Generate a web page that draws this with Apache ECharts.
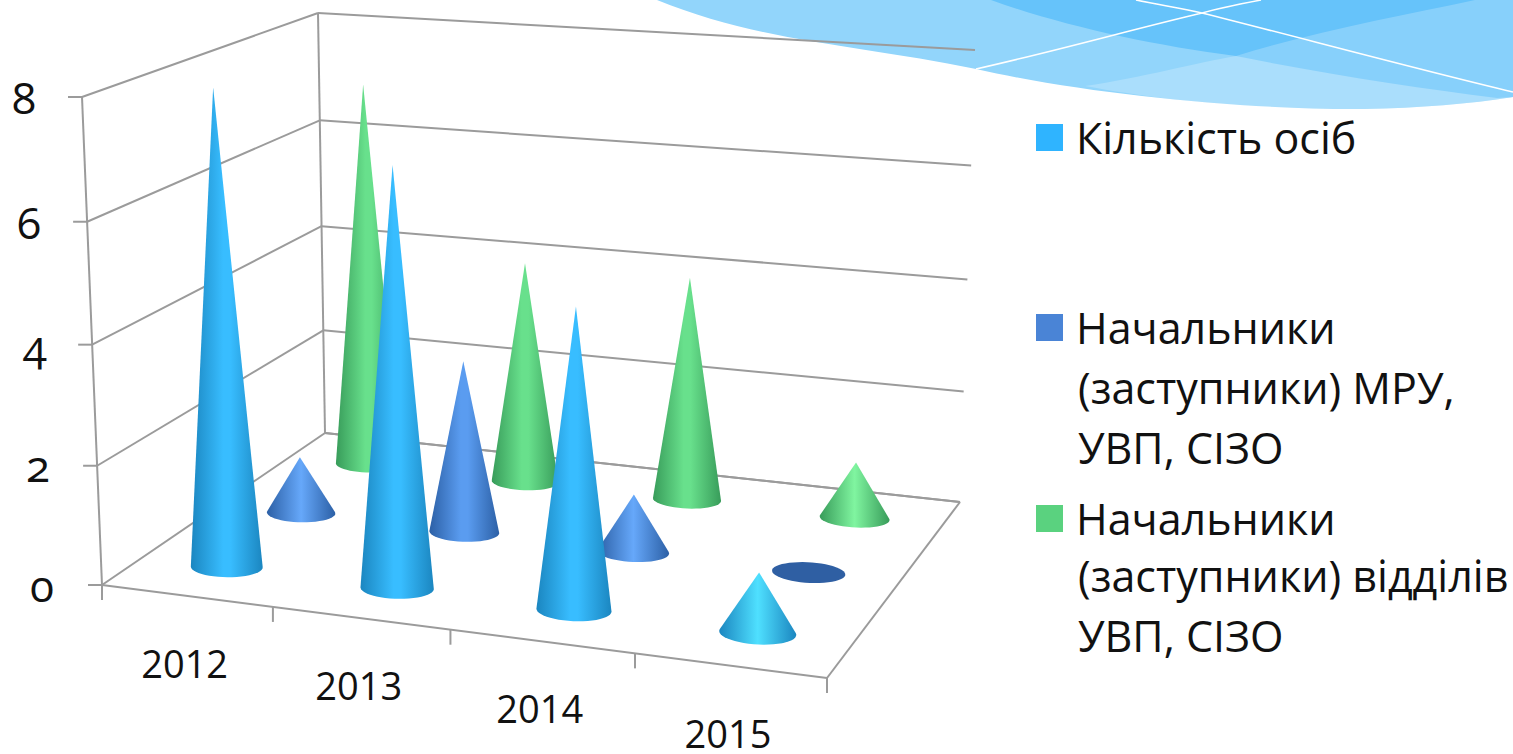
<!DOCTYPE html>
<html><head><meta charset="utf-8">
<style>
html,body{margin:0;padding:0;background:#fff}
#c{width:1513px;height:754px}
svg text{font-variant-numeric:oldstyle-nums;font-feature-settings:"onum" 1}
</style>
<script src="https://cdn.jsdelivr.net/npm/echarts@6/dist/echarts.min.js"></script>
</head><body><div id="c"></div>
<script>
const years = ['2012','2013','2014','2015'];
const yTicks = [0,2,4,6,8];
const nameCount = 'Кількість осіб';
const nameHeads = 'Начальники (заступники) МРУ, УВП, СІЗО';
const nameDept = 'Начальники (заступники) відділів УВП, СІЗО';
const valuesCount = [8,7,5,1];
const valuesHeads = [1,3,1,0];
const valuesDept = [7,4,4,1];

const FONT = '"Open Sans"';
const GRAY = '#9b9b9b';
// perspective box: floor quad and upright vectors at [front-left, front-right, back-right, back-left]
const floorQuad = [[102,585],[827,678],[960,502],[325,433]];
const upVec = [[-20,-488],[16,-509],[15,-452],[-7,-420]];
function homog(q){
  const [x0,y0]=q[0],[x1,y1]=q[1],[x2,y2]=q[2],[x3,y3]=q[3];
  const sx=x0-x1+x2-x3, sy=y0-y1+y2-y3, dx1=x1-x2, dx2=x3-x2, dy1=y1-y2, dy2=y3-y2;
  const d=dx1*dy2-dx2*dy1, g=(sx*dy2-dx2*sy)/d, h=(dx1*sy-sx*dy1)/d;
  const a=x1-x0+g*x1,b=x3-x0+h*x3,c=x0,e=y1-y0+g*y1,f=y3-y0+h*y3;
  return (u,v)=>{const w=g*u+h*v+1;return [(a*u+b*v+c)/w,(e*u+f*v+y0)/w];};
}
const floorH=homog(floorQuad);
function project(u,v,h){
  const p=floorH(u,v), k=h-0.03*h*(1-h);
  const vec=i=>(1-v)*((1-u)*upVec[0][i]+u*upVec[1][i])+v*((1-u)*upVec[3][i]+u*upVec[2][i]);
  return [p[0]+vec(0)*k, p[1]+vec(1)*k];
}
function hull(pts){
  const s=pts.slice().sort((a,b)=>a[0]-b[0]||a[1]-b[1]);
  const cr=(o,a,b)=>(a[0]-o[0])*(b[1]-o[1])-(a[1]-o[1])*(b[0]-o[0]);
  const lo=[],up=[];
  for(const p of s){while(lo.length>1&&cr(lo[lo.length-2],lo[lo.length-1],p)<=0)lo.pop();lo.push(p);}
  for(const p of s.slice().reverse()){while(up.length>1&&cr(up[up.length-2],up[up.length-1],p)<=0)up.pop();up.push(p);}
  return lo.slice(0,-1).concat(up.slice(0,-1));
}
function toUH(api,params,cat,val){
  const c=api.coord([cat,val]), g=params.coordSys;
  return [(c[0]-g.x)/g.width,(g.y+g.height-c[1])/g.height];
}
function coneSeries(name,values,depth,legendColor,edge,mid,midShort,flat){
  return {
    name,type:'custom',coordinateSystem:'cartesian2d',clip:false,silent:true,
    itemStyle:{color:legendColor},
    data:values.map((v,i)=>[i,v]),
    encode:{x:0,y:1},
    renderItem(params,api){
      const val=api.value(1);
      const [u,h]=toUH(api,params,api.value(0),val);
      const pts=[];
      for(let i=0;i<48;i++){
        const t=i/48*Math.PI*2;
        pts.push(project(u+0.05*Math.cos(t),depth+0.056*Math.sin(t),0));
      }
      if(val>0) pts.push(project(u,depth,h));
      const stops = val<=1
        ? [{offset:0,color:edge},{offset:0.5,color:midShort},{offset:1,color:edge}]
        : [{offset:0,color:edge},{offset:0.45,color:mid},{offset:0.55,color:mid},{offset:1,color:edge}];
      const fill = val>0 ? {type:'linear',x:0,y:0,x2:1,y2:0,colorStops:stops} : flat;
      return {type:'polygon',shape:{points:hull(pts)},style:{fill}};
    }
  };
}
const wave=(d,fill)=>({type:'path',silent:true,shape:{pathData:d},style:{fill}});
const waves=[
  wave('M657 0 C 760 42,860 45,976 69 C 1090 95,1250 110,1364 109 C 1420 108,1470 104,1513 97 L1513 0 Z','#92d5fb'),
  wave('M991 0 C 1060 25,1150 45,1236 56 C 1330 75,1420 88,1497 98 L1513 97 L1513 0 Z','#66c3fa'),
  wave('M1085 86 C 1140 78,1200 62,1236 56 C 1320 30,1400 16,1475 0 L1513 0 L1513 97 C 1470 104,1420 108,1364 109 C 1250 110,1160 100,1085 86 Z','rgba(255,255,255,0.22)'),
  {type:'path',silent:true,shape:{pathData:'M976 69 C 1060 50,1130 30,1202 13 C 1220 8,1240 4,1261 0 M1136 0 C 1160 5,1180 8,1202 13 C 1290 35,1420 70,1513 92'},style:{fill:'none',stroke:'#fff',lineWidth:1.5}}
];
const frameSeries={
  name:'frame',type:'custom',coordinateSystem:'cartesian2d',clip:false,silent:true,
  data:years.map((y,i)=>[i,0]),encode:{x:0,y:1},
  renderItem(params,api){
    const idx=params.dataIndex, ch=[];
    const line=(a,b)=>ch.push({type:'line',shape:{x1:a[0],y1:a[1],x2:b[0],y2:b[1]},style:{stroke:GRAY,lineWidth:2}});
    const [u]=toUH(api,params,api.value(0),0);
    const f=project(u,0,0);
    if(idx===0) ch.push(...waves);
    ch.push({type:'text',style:{text:years[idx],x:f[0]-2,y:f[1]+67,fill:'#111',font:'38px '+FONT,align:'center',verticalAlign:'middle'}});
    const t=project(u+0.125,0,0);
    line(t,[t[0],t[1]+15]);
    if(idx===0){
      const a0=project(0,0,0); line(a0,[a0[0],a0[1]+15]);
      line(a0,project(1,0,0)); line(project(1,0,0),project(1,1,0));
      line(project(0,1,0),project(1,1,0));
      line(project(0,0,0),project(0,0,1));
      line(project(0,1,0),project(0,1,1));
      yTicks.forEach(v=>{
        const [,h]=toUH(api,params,0,v);
        const l=project(0,0,h);
        line([l[0]-14,l[1]],l);
        line(l,project(0,1,h));
        line(project(0,1,h),project(1,1,h));
      });
    }
    return {type:'group',children:ch};
  }
};
const legendText={fontFamily:FONT,fontSize:43,color:'#111',lineHeight:40};
function legendAt(name,first,top){
  return {show:true,data:[name],left:1036,top,orient:'vertical',icon:'rect',itemWidth:27,itemHeight:27,itemGap:0,
    selectedMode:false,padding:0,textStyle:Object.assign({padding:[0,0,0,8]},legendText),formatter:()=>first};
}
const contText=(text,y)=>({type:'text',x:1078,y,z:3,style:{text,fill:'#111',font:'43px '+FONT,lineHeight:60,verticalAlign:'middle'}});
const rs=(pad)=>({padding:pad,fontSize:44,fontFamily:FONT});
const option={
  animation:false,backgroundColor:'#fff',
  grid:{left:64,top:97,width:800,height:488,containLabel:false},
  xAxis:{type:'category',data:years,show:false},
  yAxis:{type:'value',min:0,max:8,interval:2,axisLine:{show:false},axisTick:{show:false},splitLine:{show:false},
    axisLabel:{margin:10,fontFamily:FONT,fontSize:44,color:'#111',
      formatter:v=>`{p${v}|${v}}`,
      rich:{p0:rs([0,0,0,0]),p2:rs([4,4,0,0]),p4:rs([8,7,0,0]),p6:rs([6,13,0,0]),p8:rs([0,18,0,0])}}},
  legend:[legendAt(nameCount,'Кількість осіб',116),legendAt(nameHeads,'Начальники',306),legendAt(nameDept,'Начальники',497)],
  graphic:[
    contText('(заступники) МРУ,\nУВП, СІЗО',417),
    contText('(заступники) відділів\nУВП, СІЗО',605)
  ],
  series:[
    frameSeries,
    coneSeries(nameDept,valuesDept,5/6,'#5ad27f','#389c5a','#68e08c','#80f5a0','#3a9a5c'),
    coneSeries(nameHeads,valuesHeads,0.5,'#4a84d6','#2c60a6','#5a9cf0','#66a8fa','#2f5fa3'),
    coneSeries(nameCount,valuesCount,1/6,'#2fb4ff','#1b86c0','#38bdff','#4fe0ff','#1f8cc8')
  ]
};
const chart=echarts.init(document.getElementById('c'),null,{renderer:'svg'});
chart.setOption(option);
</script></body></html>
